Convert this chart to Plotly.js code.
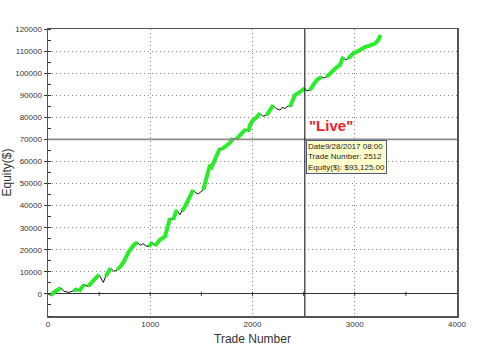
<!DOCTYPE html>
<html>
<head>
<meta charset="utf-8">
<script src="https://cdn.plot.ly/plotly-3.0.1.min.js"></script>
<style>html,body{margin:0;padding:0;background:#fff;}#chart{width:486px;height:352px;}</style>
</head>
<body>
<div id="chart"></div>
<script>
// Trade number of each sampled point on the equity curve
const trades = [0, 26, 60, 124, 156, 205, 254, 287, 303, 352, 391, 420, 450, 499, 541, 564, 613, 645, 678, 710, 743, 792, 841, 873, 906, 930, 955, 987, 1020, 1046, 1070, 1095, 1144, 1160, 1193, 1225, 1258, 1290, 1310, 1339, 1388, 1420, 1445, 1469, 1518, 1540, 1551, 1584, 1600, 1632, 1660, 1681, 1700, 1747, 1780, 1811, 1840, 1860, 1909, 1940, 1960, 1975, 2007, 2040, 2072, 2100, 2138, 2170, 2203, 2230, 2268, 2290, 2317, 2350, 2366, 2382, 2398, 2414, 2463, 2490, 2512, 2530, 2561, 2590, 2626, 2675, 2700, 2724, 2750, 2789, 2820, 2854, 2887, 2910, 2936, 2960, 2984, 3017, 3066, 3100, 3131, 3160, 3197, 3229, 3252];
// Equity ($) at each point
const equity = [0, -600, 800, 2700, 1200, 700, 1500, 2200, 1200, 4200, 3400, 5000, 6500, 8700, 5200, 8000, 11700, 10200, 11000, 12500, 14700, 19300, 22300, 23300, 22000, 22800, 21800, 21500, 23300, 21800, 23500, 24500, 26000, 29000, 34300, 33600, 38100, 35800, 37500, 39600, 44100, 47100, 45800, 45300, 47100, 50500, 53100, 58400, 57500, 61000, 63500, 66000, 65500, 67500, 68500, 70500, 70000, 71200, 73500, 74500, 73500, 76500, 78800, 80000, 81800, 80500, 81000, 83500, 85500, 84000, 83300, 84500, 84000, 85200, 84800, 86300, 88500, 90000, 91500, 92500, 93100, 92000, 92300, 94500, 96800, 98300, 97800, 98300, 99500, 101400, 102500, 103600, 107400, 106000, 106600, 107800, 108900, 109600, 111200, 111800, 112200, 112800, 113400, 114900, 117200];
// Segment ending at each point: "up" = new equity high run (green), "down" = drawdown (black)
const segment = ["up", "down", "up", "up", "down", "down", "down", "up", "down", "up", "down", "up", "up", "up", "down", "down", "up", "down", "down", "up", "up", "up", "up", "up", "down", "down", "down", "down", "up", "down", "up", "up", "up", "up", "up", "down", "up", "down", "down", "up", "up", "up", "down", "down", "down", "up", "up", "up", "up", "up", "up", "up", "down", "up", "up", "up", "down", "up", "up", "up", "down", "up", "up", "up", "up", "down", "down", "up", "up", "down", "down", "down", "down", "down", "down", "up", "up", "up", "up", "up", "up", "down", "down", "up", "up", "up", "down", "down", "up", "up", "up", "up", "up", "down", "down", "up", "up", "up", "up", "up", "up", "up", "up", "up", "up"];
const xTicks = [0, 1000, 2000, 3000, 4000];
const yTicks = [0, 10000, 20000, 30000, 40000, 50000, 60000, 70000, 80000, 90000, 100000, 110000, 120000];
const liveTrade = 2512;
const liveLevel = 70000;
const tooltipLines = ["Date9/28/2017 08:00", "Trade Number: 2512", "Equity($): $93,125.00"];

// Build green run trace with gaps
const gx = [], gy = [];
let last = -2;
for (let i = 1; i < trades.length; i++) {
  if (segment[i] === "up") {
    if (last !== i - 1) {
      if (gx.length) { gx.push(null); gy.push(null); }
      gx.push(trades[i - 1]); gy.push(equity[i - 1]);
    }
    gx.push(trades[i]); gy.push(equity[i]);
    last = i;
  }
}

const traces = [
  {x: trades, y: equity, type: 'scatter', mode: 'lines', line: {color: '#111', width: 1}, hoverinfo: 'skip'},
  {x: gx, y: gy, type: 'scatter', mode: 'lines', line: {color: 'rgb(40,238,40)', width: 4}, connectgaps: false, hoverinfo: 'skip'}
];

const shapes = [
  {type: 'line', xref: 'paper', yref: 'y', x0: 0, x1: 1, y0: liveLevel, y1: liveLevel, line: {color: '#8a8a8a', width: 1.6}},
  {type: 'line', xref: 'x', yref: 'paper', x0: liveTrade, x1: liveTrade, y0: 0, y1: 1, line: {color: '#000', width: 1}}
];
for (let t = 500; t < 4000; t += 500) {
  shapes.push({type: 'line', xref: 'x', yref: 'y', xsizemode: 'scaled', ysizemode: 'pixel', yanchor: 0, x0: t, x1: t, y0: -2, y1: 2, line: {color: '#333', width: 1}});
}

const font = {family: 'Liberation Sans, Arial, sans-serif', color: '#333'};

const layout = {
  width: 486, height: 352,
  margin: {l: 48, r: 29, t: 29, b: 36},
  paper_bgcolor: '#fff', plot_bgcolor: '#fff',
  showlegend: false,
  hovermode: false,
  font: font,
  xaxis: {
    range: [0, 4000], tickmode: 'array', tickvals: xTicks, tickformat: 'd',
    showgrid: true, gridcolor: '#888', griddash: '1px,3px', gridwidth: 1,
    zeroline: false, showline: true, mirror: true, linecolor: '#555', linewidth: 1.5,
    ticks: '', tickfont: {size: 8, color: '#333', family: font.family},
    title: {text: 'Trade Number', font: {size: 12, color: '#333', family: font.family}, standoff: 6}
  },
  yaxis: {
    range: [-10000, 120000], tickmode: 'array', tickvals: yTicks, tickformat: 'd',
    showgrid: true, gridcolor: '#888', griddash: '1px,3px', gridwidth: 1,
    zeroline: true, zerolinecolor: '#333', zerolinewidth: 1,
    showline: true, mirror: true, linecolor: '#555', linewidth: 1.5,
    ticks: 'outside', ticklen: 3, tickcolor: '#333',
    minor: {tick0: 0, dtick: 5000, ticks: 'inside', ticklen: 3, tickcolor: '#333', showgrid: false},
    tickfont: {size: 8, color: '#333', family: font.family},
    title: {text: 'Equity($)', font: {size: 12, color: '#333', family: font.family}, standoff: 6}
  },
  shapes: shapes,
  annotations: [
    {x: liveTrade, y: liveLevel, xref: 'x', yref: 'y', xanchor: 'left', yanchor: 'bottom', xshift: 2, yshift: 3,
     text: '"Live"', showarrow: false, font: {size: 15, color: '#e8232a', family: 'Liberation Sans, Arial, sans-serif', weight: 'bold'}},
    {x: liveTrade, y: liveLevel, xref: 'x', yref: 'y', xanchor: 'left', yanchor: 'top', xshift: 1, yshift: -1,
     text: tooltipLines.join('<br>'), align: 'left', showarrow: false,
     bgcolor: '#ffffcc', bordercolor: '#4a5a80', borderwidth: 1, borderpad: 1,
     font: {size: 8, color: '#222', family: 'Liberation Sans, Arial, sans-serif'}}
  ]
};

Plotly.newPlot('chart', traces, layout, {displayModeBar: false, staticPlot: true});
</script>
</body>
</html>
